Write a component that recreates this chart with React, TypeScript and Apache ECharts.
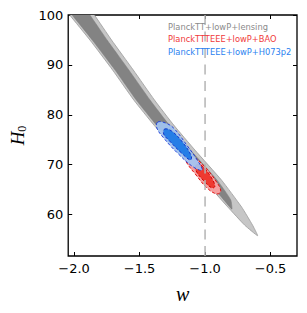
import React, { useEffect, useRef } from "react";
import * as echarts from "echarts";

// Tick values
const wTicks = [-2.0, -1.5, -1.0, -0.5];
const h0Ticks = [60, 70, 80, 90, 100];

// Axis ranges
const wRange = [-2.045, -0.298];
const h0Range = [51.7, 100];

// Reference line w = -1
const wRef = -1.0;

// Contours (w, H0)
// PlanckTT+lowP+lensing, 95% region
const grayOuter: [number, number][] = [
  [-1.925, 102.61], [-1.845, 100], [-1.714, 94.98], [-1.548, 88.97],
  [-1.386, 82.95], [-1.239, 77.93], [-1.077, 72.92], [-0.874, 66.9],
  [-0.72, 61.48], [-0.637, 57.87], [-0.599, 55.77], [-0.697, 57.87],
  [-0.825, 61.48], [-1.01, 66.9], [-1.22, 72.92], [-1.39, 77.93],
  [-1.544, 82.95], [-1.706, 88.97], [-1.879, 94.98], [-2.034, 100],
  [-2.114, 102.61],
];
// PlanckTT+lowP+lensing, 68% region
const grayInner: [number, number][] = [
  [-1.948, 102.61], [-1.879, 100], [-1.748, 94.98], [-1.582, 88.97],
  [-1.42, 82.95], [-1.273, 77.93], [-1.111, 72.92], [-0.908, 66.9],
  [-0.852, 64.89], [-0.803, 62.89], [-0.795, 61.08], [-0.855, 62.89],
  [-0.919, 64.89], [-0.991, 66.9], [-1.202, 72.92], [-1.371, 77.93],
  [-1.525, 82.95], [-1.687, 88.97], [-1.861, 94.98], [-2.015, 100],
  [-2.096, 102.61],
];
// PlanckTTTEEE+lowP+BAO
const redOuter: [number, number][] = [
  [-1.150, 71.74], [-1.090, 71.54], [-1.008, 69.74], [-0.917, 66.73],
  [-0.880, 64.73], [-0.910, 64.13], [-0.985, 65.33], [-1.075, 68.14],
  [-1.143, 70.54],
];
const redInner: [number, number][] = [
  [-1.068, 69.94], [-1.023, 69.74], [-0.955, 67.54], [-0.925, 65.73],
  [-0.947, 65.33], [-1.008, 66.73], [-1.068, 68.74],
];
// PlanckTTTEEE+lowP+H073p2
const blueOuter: [number, number][] = [
  [-1.361, 78.56], [-1.293, 78.26], [-1.233, 77.15], [-1.135, 73.75],
  [-1.060, 70.94], [-1.023, 68.94], [-1.090, 69.54], [-1.211, 72.34],
  [-1.316, 75.35], [-1.368, 77.35],
];
const blueInner: [number, number][] = [
  [-1.308, 77.15], [-1.256, 76.75], [-1.173, 74.55], [-1.105, 71.74],
  [-1.113, 70.94], [-1.180, 72.34], [-1.271, 74.75], [-1.316, 76.15],
];

const legendLabels = [
  "PlanckTT+lowP+lensing",
  "PlanckTTTEEE+lowP+BAO",
  "PlanckTTTEEE+lowP+H073p2",
];
const legendColors = ["#8a8a8a", "#f03a3a", "#2a7ff0"];

function contour(
  pts: [number, number][],
  fill: string,
  stroke: string,
  lineWidth: number,
  dash: number[] | null,
  z: number,
  smooth: number,
  opacity = 1
) {
  return {
    type: "custom",
    coordinateSystem: "cartesian2d",
    clip: true,
    silent: true,
    z,
    data: pts,
    encode: { x: 0, y: 1 },
    renderItem: (params: any, api: any) => {
      if (params.dataIndex !== 0) return null;
      const points = pts.map((p) => api.coord(p));
      return {
        type: "polygon",
        shape: { points, smooth },
        style: {
          fill,
          stroke,
          lineWidth,
          lineDash: dash || undefined,
          opacity,
        },
      };
    },
  };
}

export default function App() {
  const ref = useRef<HTMLDivElement>(null);
  useEffect(() => {
    if (!ref.current) return;
    const chart = echarts.init(ref.current, null, { renderer: "svg" });
    const tickFont = { fontFamily: "DejaVu Sans", fontSize: 13, color: "#000" };
    const option: any = {
      animation: false,
      backgroundColor: "#fff",
      grid: {
        left: 65,
        right: 10,
        top: 15,
        bottom: 57,
        show: true,
        borderColor: "#000",
        borderWidth: 1.3,
        backgroundColor: "transparent",
      },
      xAxis: [
        {
          type: "value",
          min: wRange[0],
          max: wRange[1],
          position: "bottom",
          axisLine: { show: false },
          axisTick: {
            inside: true,
            length: 4,
            customValues: wTicks,
            lineStyle: { color: "#000", width: 1 },
          },
          axisLabel: {
            customValues: wTicks,
            ...tickFont,
            margin: 6,
            formatter: (v: number) =>
              (v < 0 ? "\u2212" : "") + Math.abs(v).toFixed(1),
          },
          splitLine: { show: false },
          name: "w",
          nameLocation: "middle",
          nameGap: 28,
          nameTextStyle: {
            fontFamily: "Liberation Serif",
            fontStyle: "italic",
            fontSize: 20,
            color: "#000",
          },
        },
        {
          type: "value",
          min: wRange[0],
          max: wRange[1],
          position: "top",
          axisLine: { show: false },
          axisTick: {
            inside: true,
            length: 4,
            customValues: wTicks,
            lineStyle: { color: "#000", width: 1 },
          },
          axisLabel: { show: false },
          splitLine: { show: false },
        },
      ],
      yAxis: [
        {
          type: "value",
          min: h0Range[0],
          max: h0Range[1],
          position: "left",
          axisLine: { show: false },
          axisTick: {
            inside: true,
            length: 4,
            customValues: h0Ticks,
            lineStyle: { color: "#000", width: 1 },
          },
          axisLabel: { customValues: h0Ticks, ...tickFont, margin: 5 },
          splitLine: { show: false },
          name: "{h|H}{s|0}",
          nameLocation: "middle",
          nameRotate: 90,
          nameGap: 38,
          nameTextStyle: {
            rich: {
              h: {
                fontFamily: "Liberation Serif",
                fontStyle: "italic",
                fontSize: 19,
                lineHeight: 20,
                color: "#000",
              },
              s: {
                fontFamily: "Liberation Serif",
                fontSize: 12,
                lineHeight: 6,
                verticalAlign: "bottom",
                color: "#000",
              },
            },
          },
        },
        {
          type: "value",
          min: h0Range[0],
          max: h0Range[1],
          position: "right",
          axisLine: { show: false },
          axisTick: {
            inside: true,
            length: 4,
            customValues: h0Ticks,
            lineStyle: { color: "#000", width: 1 },
          },
          axisLabel: { show: false },
          splitLine: { show: false },
        },
      ],
      series: [
        contour(grayOuter, "#c6c6c6", "#9a9a9a", 0.8, null, 1, 0.15),
        contour(grayInner, "#838383", "#7a7a7a", 0.5, null, 2, 0.15),
        contour(redOuter, "#f5a0a0", "#e41010", 1, [3, 2], 3, 0.4),
        contour(redInner, "#ee3a30", "#d00000", 1, [3, 2], 4, 0.4),
        contour(blueOuter, "#a2c4f2", "#1a3ad8", 1, [3, 2], 5, 0.4, 0.92),
        contour(blueInner, "#1f7ae6", "#1030c8", 1, [3, 2], 6, 0.4, 0.95),
        {
          type: "line",
          silent: true,
          z: 8,
          symbol: "none",
          data: [
            [wRef, h0Range[1]],
            [wRef, h0Range[0]],
          ],
          lineStyle: { color: "#b4b4b4", width: 1.5, type: [10, 6.5] },
        },
      ],
      graphic: legendLabels.map((t, i) => ({
        type: "text",
        x: 168,
        y: 26.8 + i * 12.6,
        z: 100,
        style: {
          text: t,
          fill: legendColors[i],
          fontFamily: "DejaVu Sans",
          fontSize: 8.3,
          textVerticalAlign: "middle",
          textAlign: "left",
        },
      })),
    };
    chart.setOption(option);
    return () => chart.dispose();
  }, []);
  return (
    <div
      ref={ref}
      style={{ position: "fixed", left: 0, top: 0, width: 307, height: 313 }}
    />
  );
}
